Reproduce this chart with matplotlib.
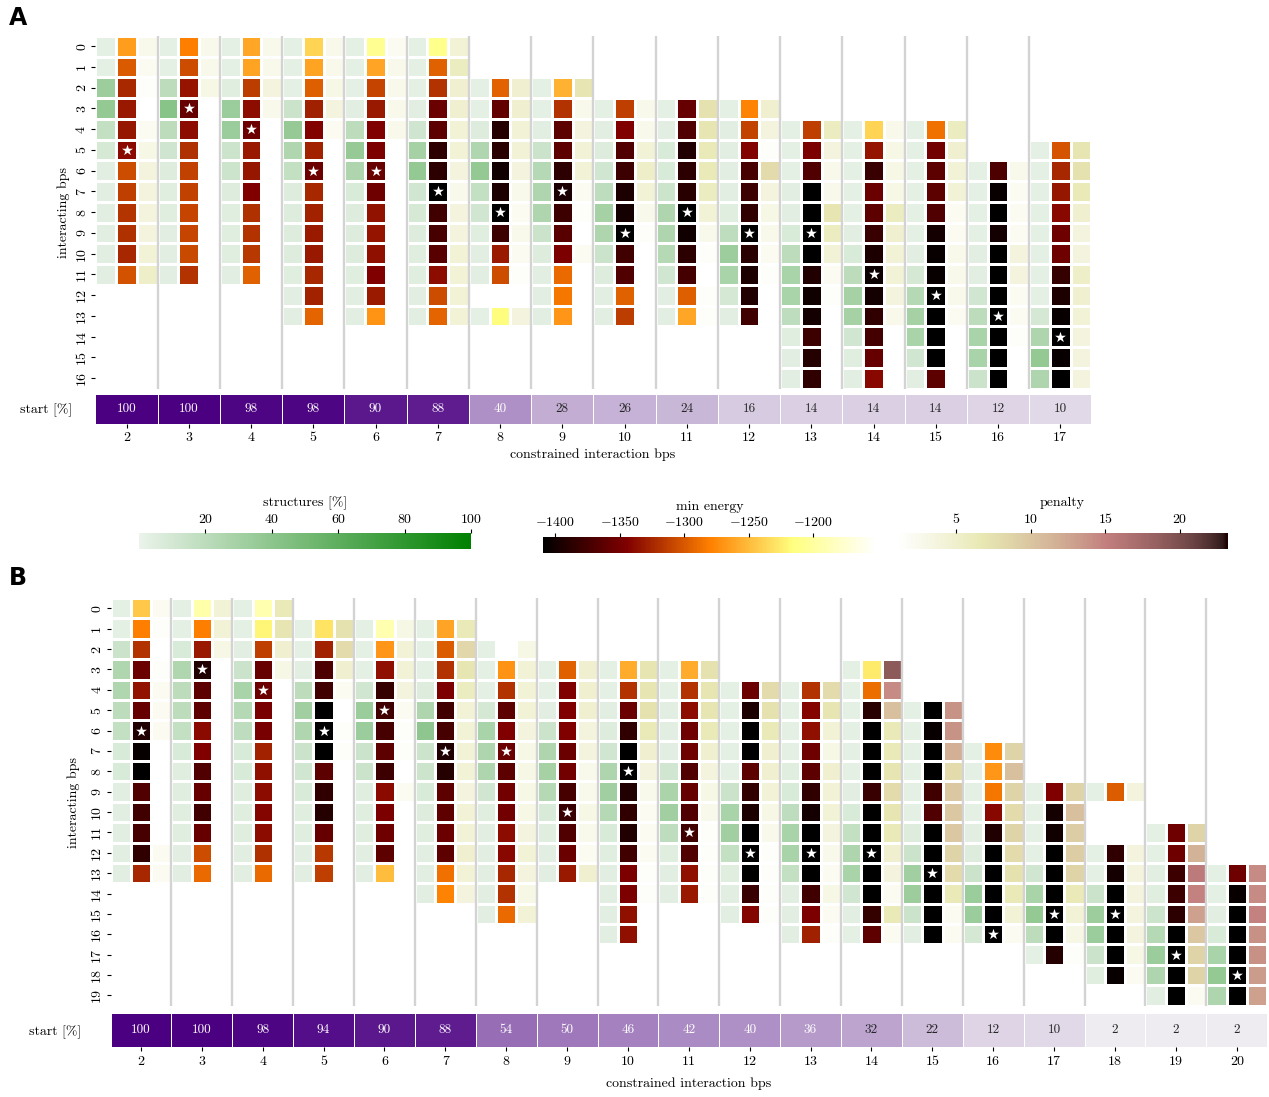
import numpy as np
import matplotlib
matplotlib.use("Agg")
import matplotlib.pyplot as plt
from matplotlib.colors import Normalize
from matplotlib.cm import ScalarMappable
import seaborn as sns

plt.rcParams.update({
    "font.family": "serif",
    "font.serif": ["cmr10"],
    "mathtext.fontset": "cm",
    "axes.formatter.use_mathtext": True,
    "axes.unicode_minus": True,
})

# ---------------------------------------------------------------- panel A data
A_BPS = list(range(2, 18))
A_START = [100, 100, 98, 98, 90, 88, 40, 28, 26, 24, 16, 14, 14, 14, 12, 10]
A_FIRST_ROW = [0, 0, 0, 0, 0, 0, 2, 2, 3, 3, 3, 4, 4, 4, 6, 5]
A_STAR_ROW = [5, 3, 4, 6, 6, 7, 8, 7, 9, 8, 9, 9, 11, 12, 13, 14]
A_STRUCT = [
    [3, 3, 33, 37, 17, 9, 4, 4, 4, 4, 4, 4],
    [3, 3, 20, 42, 20, 12, 6, 5, 5, 4, 4, 4],
    [3, 3, 5, 34, 34, 13, 13, 6, 5, 5, 5, 4],
    [3, 3, 3, 14, 36, 25, 17, 6, 6, 6, 6, 5, 4, 4],
    [3, 3, 3, 4, 20, 36, 26, 8, 6, 6, 6, 5, 4, 4],
    [3, 3, 3, 4, 12, 30, 37, 11, 9, 6, 5, 5, 4, 4],
    [3, 3, 6, 25, 37, 17, 11, 5, 4, 4, None, 3],
    [3, 3, 4, 14, 23, 26, 26, 14, 6, 4, 4, 4],
    [3, 4, 6, 11, 19, 30, 26, 14, 6, 4, 4],
    [3, 4, 8, 8, 13, 26, 26, 23, 11, 4, 4],
    [3, 4, 4, 4, 4, 5, 19, 33, 28, 10, 4],
    [3, 3, 3, 4, 4, 8, 20, 28, 28, 19, 5, 4, 4],
    [3, 3, 3, 3, 3, 4, 8, 20, 30, 30, 11, 5, 4],
    [3, 3, 3, 3, 3, 3, 4, 10, 23, 30, 28, 11, 4],
    [3, 3, 3, 3, 4, 4, 11, 20, 28, 28, 14],
    [3, 3, 3, 3, 3, 3, 3, 3, 10, 26, 37, 26],
]
A_ENERGY = [
    [-1265, -1299, -1324, -1332, -1333, -1339, -1306, -1313, -1318, -1320, -1325, -1303],
    [-1281, -1306, -1334, -1357, -1338, -1320, -1312, -1312, -1310, -1310, -1308, -1319],
    [-1260, -1262, -1314, -1338, -1354, -1332, -1333, -1344, -1320, -1319, -1316, -1296],
    [-1237, -1262, -1297, -1328, -1343, -1327, -1354, -1325, -1327, -1331, -1332, -1325, -1327, -1294],
    [-1207, -1261, -1310, -1332, -1344, -1346, -1356, -1353, -1335, -1334, -1336, -1344, -1331, -1270],
    [-1210, -1296, -1319, -1355, -1362, -1386, -1386, -1410, -1376, -1373, -1364, -1338, -1306, -1294],
    [-1295, -1359, -1390, -1388, -1400, -1394, -1412, -1378, -1331, -1306, None, -1217],
    [-1255, -1319, -1362, -1362, -1386, -1395, -1378, -1364, -1346, -1291, -1285, -1268],
    [-1313, -1344, -1368, -1378, -1394, -1398, -1412, -1376, -1368, -1296, -1314],
    [-1357, -1368, -1392, -1386, -1388, -1412, -1400, -1386, -1374, -1297, -1260],
    [-1278, -1311, -1343, -1373, -1378, -1384, -1412, -1388, -1394, -1392, -1376],
    [-1313, -1346, -1368, -1410, -1410, -1412, -1410, -1392, -1400, -1398, -1378, -1390, -1384],
    [-1237, -1334, -1380, -1355, -1362, -1380, -1394, -1402, -1398, -1384, -1374, -1357, -1340],
    [-1288, -1351, -1362, -1362, -1368, -1398, -1404, -1404, -1412, -1410, -1410, -1410, -1362],
    [-1370, -1404, -1410, -1398, -1410, -1410, -1410, -1412, -1410, -1410, -1410],
    [-1302, -1325, -1333, -1340, -1353, -1353, -1382, -1394, -1404, -1412, -1404, -1410],
]
A_PENALTY = [
    [2.7, 2.2, 1.5, 1.0, 2.2, 3.2, 3.7, 3.7, 3.7, 3.7, 4.3, 5.3],
    [2.7, 2.7, 3.2, 1, 1, 1, 1, 1, 1, 1, 1, 1],
    [2.7, 2.7, 3.7, 2.7, 1, 1, 1, 1, 1, 1, 1, 1],
    [2.7, 2.7, 3.2, 3.7, 2.2, 1, 1, 1, 1, 1, 1, 1, 1, 1],
    [2.2, 2.7, 2.7, 2.7, 2.7, 1, 1, 1, 1, 1, 1, 1, 1, 1],
    [4.3, 5.8, 4.8, 4.8, 4.3, 4.3, 3.7, 2.7, 3.7, 3.7, 4.3, 4.3, 4.3, 4.3],
    [4.8, 4.8, 4.3, 4.3, 3.7, 2.7, 2.2, 2.7, 2.2, 1.5, None, 3.7],
    [7, 2.7, 3.7, 4.3, 4.3, 2.2, 1.5, 1, 2.2, 1, 1, 1],
    [2.7, 2.7, 4.3, 5.3, 4.3, 2.7, 1.5, 1, 1, 1, 1],
    [7.3, 7, 6.3, 6.3, 5.8, 4.3, 2.7, 1.5, 1, 1.5, 1.5],
    [4.8, 3.7, 1.5, 8, 3.7, 3.2, 2.7, 2.2, 1.5, 1, 1],
    [5.8, 3.7, 2.7, 2.7, 7, 5.8, 4.3, 2.2, 1.5, 1, 1, 1, 1],
    [2.7, 3.2, 3.2, 3.2, 5.8, 4.8, 4.3, 4.3, 3.7, 2.7, 1, 1, 1],
    [5.8, 4.8, 4.3, 4.3, 2.2, 2.2, 2.7, 2.7, 2.7, 2.2, 1, 1, 1],
    [2.7, 2.2, 2.2, 2.2, 3.7, 3.7, 2.2, 2.2, 1.5, 1, 1],
    [7, 7.3, 6.3, 4.8, 3.7, 3.7, 5.3, 4.8, 4.3, 3.7, 3.7, 3.7],
]

# ---------------------------------------------------------------- panel B data
B_BPS = list(range(2, 21))
B_START = [100, 100, 98, 94, 90, 88, 54, 50, 46, 42, 40, 36, 32, 22, 12, 10, 2, 2, 2]
B_FIRST_ROW = [0, 0, 0, 1, 1, 1, 2, 3, 3, 3, 4, 4, 3, 5, 7, 9, 9, 11, 13]
B_STAR_ROW = [6, 3, 4, 6, 5, 7, 7, 10, 8, 11, 12, 12, 12, 13, 16, 15, 15, 17, 18]
B_STRUCT = [
    [3, 3, 14, 25, 25, 20, 17, 8, 8, 4, 4, 4, 4, 4],
    [3, 3, 8, 25, 20, 20, 17, 8, 5, 5, 5, 5, 4, 4],
    [3, 3, 4, 14, 28, 23, 19, 8, 8, 5, 5, 5, 4, 4],
    [3, 3, 4, 20, 31, 25, 14, 11, 8, 5, 5, 4, 4],
    [3, 3, 3, 11, 34, 34, 14, 14, 5, 5, 5, 4, 4],
    [3, 3, 3, 6, 26, 39, 13, 13, 8, 6, 5, 4, 4, 4],
    [3, 3, 3, 10, 28, 26, 26, 11, 5, 4, 4, 4, 4, 4],
    [3, 3, 4, 14, 26, 30, 23, 8, 5, 4, 4],
    [3, 3, 4, 6, 11, 26, 31, 23, 8, 5, 4, 4, 4, 4],
    [3, 3, 4, 4, 4, 11, 27, 31, 19, 5, 4, 4],
    [3, 3, 3, 3, 3, 14, 28, 31, 17, 5, 4, 4],
    [3, 3, 3, 3, 5, 8, 19, 28, 28, 17, 4, 4, 4],
    [3, 3, 3, 3, 3, 3, 4, 8, 17, 26, 28, 11, 4, 3],
    [3, 3, 3, 3, 3, 3, 6, 14, 31, 33, 14, 4],
    [3, 3, 3, 3, 4, 6, 14, 34, 34, 10],
    [3, 3, 3, 3, 11, 28, 37, 20, 3],
    [3, None, None, 3, 3, 14, 33, 34, 14, 5],
    [3, 3, 4, 5, 13, 23, 34, 26, 4],
    [3, 3, 4, 8, 28, 37, 26],
]
B_ENERGY = [
    [-1243, -1281, -1319, -1355, -1335, -1357, -1392, -1405, -1410, -1368, -1376, -1373, -1384, -1325],
    [-1195, -1281, -1332, -1392, -1362, -1362, -1339, -1344, -1368, -1357, -1376, -1357, -1306, -1291],
    [-1192, -1220, -1313, -1357, -1355, -1348, -1348, -1327, -1336, -1338, -1342, -1338, -1320, -1291],
    [-1230, -1327, -1370, -1376, -1410, -1412, -1410, -1362, -1384, -1390, -1357, -1316, -1313],
    [-1192, -1268, -1336, -1382, -1376, -1373, -1362, -1378, -1339, -1346, -1353, -1362, -1249],
    [-1261, -1298, -1319, -1346, -1376, -1373, -1392, -1390, -1362, -1361, -1355, -1362, -1288, -1278],
    [-1140, -1270, -1319, -1362, -1344, -1355, -1362, -1351, -1351, -1338, -1340, -1325, -1319, -1291],
    [-1296, -1344, -1344, -1344, -1355, -1351, -1373, -1380, -1368, -1355, -1332],
    [-1258, -1319, -1355, -1384, -1410, -1412, -1392, -1384, -1392, -1376, -1346, -1346, -1336, -1336],
    [-1258, -1319, -1338, -1353, -1353, -1368, -1357, -1368, -1376, -1368, -1336, -1332],
    [-1355, -1394, -1410, -1410, -1362, -1384, -1394, -1410, -1412, -1410, -1380, -1342],
    [-1319, -1342, -1336, -1353, -1362, -1384, -1398, -1410, -1412, -1410, -1376, -1346, -1328],
    [-1226, -1290, -1388, -1410, -1410, -1410, -1380, -1410, -1410, -1412, -1410, -1410, -1382, -1361],
    [-1410, -1404, -1410, -1410, -1376, -1368, -1410, -1410, -1412, -1410, -1410, -1410],
    [-1274, -1268, -1285, -1340, -1392, -1410, -1410, -1410, -1410, -1412],
    [-1344, -1398, -1400, -1410, -1410, -1410, -1412, -1410, -1390],
    [-1298, None, None, -1384, -1398, -1410, -1412, -1410, -1410, -1404],
    [-1353, -1353, -1378, -1378, -1386, -1410, -1412, -1410, -1410],
    [-1353, -1404, -1410, -1410, -1410, -1412, -1410],
]
B_PENALTY = [
    [2.2, 1.5, 1, 1.5, 2.2, 2.2, 2.2, 1, 1, 1, 1, 1, 2.2, 2.2],
    [4.3, 4.3, 3.2, 1, 1, 1, 1, 1, 1, 1, 1, 1, 1, 1],
    [6.3, 7, 4.8, 3.2, 1, 1, 1, 1, 1, 1, 1, 1, 1, 1],
    [7.3, 8, 4.8, 2.2, 1, 1.5, 1.5, 1, 1, 1, 1, 1, 1],
    [3.2, 4.3, 4.3, 3.7, 2.2, 1.5, 1.5, 1, 2.2, 1, 1, 1, 1],
    [6.3, 8.4, 7, 5.8, 4.3, 4.3, 4.3, 4.3, 3.7, 4.3, 4.3, 4.8, 4.3, 3.7],
    [3.2, 4.3, 4.3, 4.3, 3.7, 3.2, 3.2, 3.2, 3.2, 3.7, 4.3, 3.7, 3.2, 4.3],
    [4.8, 4.8, 4.8, 3.7, 3.7, 2.7, 2.7, 3.2, 2.7, 2.2, 4.8],
    [7, 7, 7.3, 6.3, 4.8, 3.7, 2.7, 2.2, 2.2, 2.2, 1.5, 1.5, 1, 1],
    [7.3, 7, 7, 6.3, 4.8, 3.7, 3.2, 2.7, 1.5, 1.5, 1.5, 1.5],
    [8, 7.3, 6.3, 4.8, 4.8, 4.3, 3.2, 2.7, 1.5, 1.5, 1.5, 1.5],
    [8, 7, 4.3, 3.2, 4.8, 4.3, 4.3, 3.7, 2.7, 2.2, 3.2, 2.2, 1.5],
    [19, 14.3, 10.5, 6.3, 6.3, 7, 8, 7, 6.3, 4.8, 3.7, 2.2, 6.3, 2.2],
    [13.8, 13.8, 11.8, 8, 9.8, 9.8, 9.8, 8.8, 8, 6.3, 2.2, 2.2],
    [8.8, 10.5, 8.8, 8, 8.8, 8, 7.3, 6.3, 4.3, 2.2],
    [8.8, 10.5, 9.3, 9.3, 8.8, 6.3, 4.3, 3.2, 1.5],
    [3.7, None, None, 3.7, 3.7, 3.7, 3.7, 3.7, 3.2, 2.2],
    [8.8, 11.5, 15.5, 14.8, 12.8, 9.8, 8.8, 8.8, 2.2],
    [14.3, 14.3, 14.8, 14, 14, 13.2, 12.8],
]

# ---------------------------------------------------------------- colour scales
CMAP_STRUCT = sns.light_palette("green", as_cmap=True)
CMAP_ENERGY = plt.get_cmap("afmhot")
CMAP_PENALTY = plt.get_cmap("pink_r")
CMAP_START = sns.light_palette("indigo", as_cmap=True)
NORM_STRUCT = Normalize(0, 100)
NORM_ENERGY = Normalize(-1409, -1151)
NORM_PENALTY = Normalize(1.0, 23.2)
NORM_START = Normalize(0, 100)

FS = 9.5
FS_TICK = 10
W, H = 1269, 1097
fig = plt.figure(figsize=(W / 100, H / 100), dpi=100)


def px_axes(x0, y0, x1, y1):
    return fig.add_axes([x0 / W, 1 - y1 / H, (x1 - x0) / W, (y1 - y0) / H])


def fig_text(x, y, s, **kw):
    kw.setdefault("fontsize", FS)
    fig.text(x / W, 1 - y / H, s, ha="center", va="center", **kw)


def rel_luminance(c):
    rgb = np.asarray(c[:3])
    rgb = np.where(rgb <= .03928, rgb / 12.92, ((rgb + .055) / 1.055) ** 2.4)
    return rgb.dot([.2126, .7152, .0722])


def draw_panel(box, strip_box, bps, start, first, struct, energy, penalty,
               stars, nrows, start_pad):
    ngroups = len(bps)
    ncols = 3 * ngroups
    layers = [np.full((nrows, ncols), np.nan) for _ in range(3)]
    for g in range(ngroups):
        for k, series in enumerate((struct, energy, penalty)):
            for i, v in enumerate(series[g]):
                if v is not None:
                    layers[k][first[g] + i, 3 * g + k] = v

    ax = px_axes(*box)
    X = np.arange(ncols + 1)
    Y = np.arange(nrows + 1)
    for layer, cmap, norm in zip(layers,
                                 (CMAP_STRUCT, CMAP_ENERGY, CMAP_PENALTY),
                                 (NORM_STRUCT, NORM_ENERGY, NORM_PENALTY)):
        ax.pcolormesh(X, Y, np.ma.masked_invalid(layer), cmap=cmap, norm=norm,
                      edgecolors="white", linewidth=1.8)
    ax.vlines([3 * g for g in range(1, ngroups)], 0, nrows,
              colors="#d3d3d3", linewidth=1.7, zorder=3)
    ax.scatter([3 * g + 1.5 for g in range(ngroups)],
               [r + 0.5 for r in stars], marker="*", s=68, color="white",
               linewidths=0, zorder=4)
    ax.set_xlim(0, ncols)
    ax.set_ylim(nrows, 0)
    for sp in ax.spines.values():
        sp.set_visible(False)
    ax.set_xticks([])
    ax.set_yticks(np.arange(nrows) + 0.5)
    ax.set_yticklabels([str(r) for r in range(nrows)], rotation=90, va="center",
                       fontsize=FS_TICK)
    ax.tick_params(axis="y", length=2.8, width=0.8, pad=2.5)

    sax = px_axes(*strip_box)
    sax.pcolormesh(np.arange(ngroups + 1), [0, 1], np.array([start], float),
                   cmap=CMAP_START, norm=NORM_START, edgecolors="white",
                   linewidth=0.6)
    for g, v in enumerate(start):
        col = CMAP_START(NORM_START(v))
        tc = ".15" if rel_luminance(col) > .408 else "white"
        sax.text(g + 0.5, 0.5, str(v), ha="center", va="center", color=tc,
                 fontsize=FS)
    sax.set_xlim(0, ngroups)
    sax.set_ylim(1, 0)
    for sp in sax.spines.values():
        sp.set_visible(False)
    sax.set_xticks(np.arange(ngroups) + 0.5)
    sax.set_xticklabels([str(b) for b in bps], fontsize=FS_TICK)
    sax.tick_params(axis="x", length=3, width=0.8, pad=3)
    sax.set_yticks([0.5])
    sax.set_yticklabels(["start [%]"], fontsize=FS_TICK)
    sax.tick_params(axis="y", length=0, pad=start_pad)


# ---------------------------------------------------------------- panel A
draw_panel((95.4, 35.8, 1091.4, 388.6), (95.4, 394.0, 1091.4, 423.7),
           A_BPS, A_START, A_FIRST_ROW, A_STRUCT, A_ENERGY, A_PENALTY,
           A_STAR_ROW, 17, 17)
fig_text(593, 455, "constrained interaction bps", fontsize=FS_TICK)
fig_text(63.5, 212, "interacting bps", rotation=90, fontsize=FS_TICK)
fig_text(18, 18, "A", fontsize=17, fontweight="bold", family="DejaVu Sans")

# ---------------------------------------------------------------- panel B
draw_panel((110.5, 598.1, 1267.2, 1005.6), (110.5, 1012.7, 1267.2, 1047.3),
           B_BPS, B_START, B_FIRST_ROW, B_STRUCT, B_ENERGY, B_PENALTY,
           B_STAR_ROW, 20, 21)
fig_text(689, 1084, "constrained interaction bps", fontsize=FS_TICK)
fig_text(73.5, 802, "interacting bps", rotation=90, fontsize=FS_TICK)
fig_text(18, 578, "B", fontsize=17, fontweight="bold", family="DejaVu Sans")


# ---------------------------------------------------------------- colour bars
def colorbar(box, cmap, norm, ticks, title, title_y):
    cax = px_axes(*box)
    cb = fig.colorbar(ScalarMappable(norm=norm, cmap=cmap), cax=cax,
                      orientation="horizontal", ticks=ticks)
    cb.outline.set_visible(False)
    cax.xaxis.set_ticks_position("top")
    cax.tick_params(length=3, width=0.8, pad=2.5, labelsize=FS_TICK)
    fig_text((box[0] + box[2]) / 2, title_y, title, fontsize=FS_TICK)


colorbar((139, 533.3, 471, 549.3), CMAP_STRUCT, NORM_STRUCT,
         [20, 40, 60, 80, 100], "structures [%]", 503)
colorbar((543.3, 536.7, 876.7, 553.3), CMAP_ENERGY, NORM_ENERGY,
         [-1400, -1350, -1300, -1250, -1200], "min energy", 507)
colorbar((896.7, 533.3, 1227.7, 549.3), CMAP_PENALTY, NORM_PENALTY,
         [5, 10, 15, 20], "penalty", 503)

fig.savefig("out.png", dpi=100)
